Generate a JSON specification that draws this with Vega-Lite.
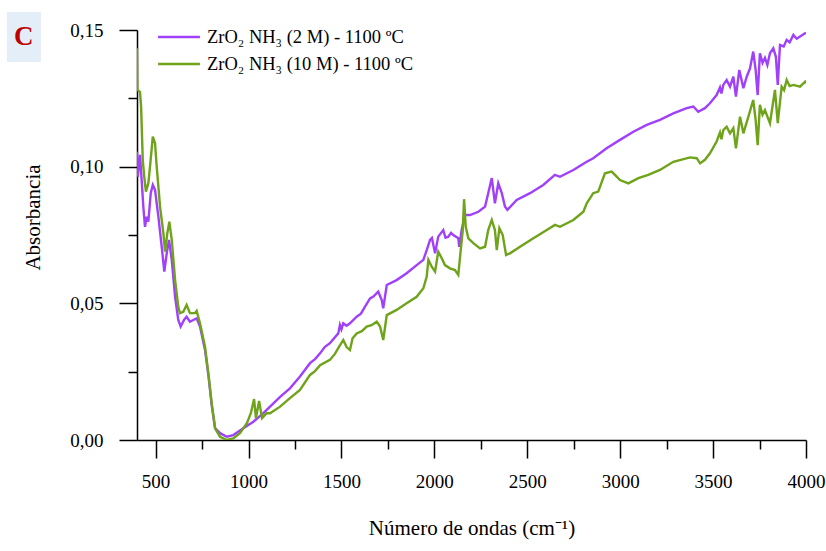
{
  "$schema": "https://vega.github.io/schema/vega-lite/v6.json",
  "width": 669,
  "height": 410,
  "autosize": {"type": "none"},
  "padding": {"left": 137, "top": 30, "right": 20, "bottom": 111},
  "background": "white",
  "view": {"stroke": null},
  "config": {
    "font": "Liberation Serif",
    "axis": {"labelFont": "Liberation Serif", "titleFont": "Liberation Serif", "labelColor": "black", "titleColor": "black", "domainColor": "black", "tickColor": "black"}
  },
  "title": {"text": "C", "anchor": "start", "frame": "group", "font": "Liberation Serif", "fontSize": 27, "fontWeight": "bold", "color": "#c00000", "dx": -123, "dy": 39, "offset": 0},
  "datasets": {
    "spec": [
      {"serie": "ZrO₂ NH₃ (2 M) - 1100 ºC", "onda": 400, "abs": 0.1055},
      {"serie": "ZrO₂ NH₃ (2 M) - 1100 ºC", "onda": 404, "abs": 0.0963},
      {"serie": "ZrO₂ NH₃ (2 M) - 1100 ºC", "onda": 416, "abs": 0.1043},
      {"serie": "ZrO₂ NH₃ (2 M) - 1100 ºC", "onda": 425, "abs": 0.0951},
      {"serie": "ZrO₂ NH₃ (2 M) - 1100 ºC", "onda": 434, "abs": 0.0854},
      {"serie": "ZrO₂ NH₃ (2 M) - 1100 ºC", "onda": 443, "abs": 0.0780},
      {"serie": "ZrO₂ NH₃ (2 M) - 1100 ºC", "onda": 452, "abs": 0.0817},
      {"serie": "ZrO₂ NH₃ (2 M) - 1100 ºC", "onda": 461, "abs": 0.0799},
      {"serie": "ZrO₂ NH₃ (2 M) - 1100 ºC", "onda": 474, "abs": 0.0903},
      {"serie": "ZrO₂ NH₃ (2 M) - 1100 ºC", "onda": 485, "abs": 0.0933},
      {"serie": "ZrO₂ NH₃ (2 M) - 1100 ºC", "onda": 497, "abs": 0.0915},
      {"serie": "ZrO₂ NH₃ (2 M) - 1100 ºC", "onda": 515, "abs": 0.0817},
      {"serie": "ZrO₂ NH₃ (2 M) - 1100 ºC", "onda": 533, "abs": 0.0707},
      {"serie": "ZrO₂ NH₃ (2 M) - 1100 ºC", "onda": 547, "abs": 0.0616},
      {"serie": "ZrO₂ NH₃ (2 M) - 1100 ºC", "onda": 560, "abs": 0.0683},
      {"serie": "ZrO₂ NH₃ (2 M) - 1100 ºC", "onda": 572, "abs": 0.0732},
      {"serie": "ZrO₂ NH₃ (2 M) - 1100 ºC", "onda": 587, "abs": 0.0659},
      {"serie": "ZrO₂ NH₃ (2 M) - 1100 ºC", "onda": 605, "abs": 0.0524},
      {"serie": "ZrO₂ NH₃ (2 M) - 1100 ºC", "onda": 622, "abs": 0.0439},
      {"serie": "ZrO₂ NH₃ (2 M) - 1100 ºC", "onda": 635, "abs": 0.0415},
      {"serie": "ZrO₂ NH₃ (2 M) - 1100 ºC", "onda": 653, "abs": 0.0439},
      {"serie": "ZrO₂ NH₃ (2 M) - 1100 ºC", "onda": 667, "abs": 0.0451},
      {"serie": "ZrO₂ NH₃ (2 M) - 1100 ºC", "onda": 685, "abs": 0.0433},
      {"serie": "ZrO₂ NH₃ (2 M) - 1100 ºC", "onda": 703, "abs": 0.0439},
      {"serie": "ZrO₂ NH₃ (2 M) - 1100 ºC", "onda": 721, "abs": 0.0445},
      {"serie": "ZrO₂ NH₃ (2 M) - 1100 ºC", "onda": 739, "abs": 0.0415},
      {"serie": "ZrO₂ NH₃ (2 M) - 1100 ºC", "onda": 766, "abs": 0.0329},
      {"serie": "ZrO₂ NH₃ (2 M) - 1100 ºC", "onda": 784, "abs": 0.0238},
      {"serie": "ZrO₂ NH₃ (2 M) - 1100 ºC", "onda": 802, "abs": 0.0128},
      {"serie": "ZrO₂ NH₃ (2 M) - 1100 ºC", "onda": 820, "abs": 0.0044},
      {"serie": "ZrO₂ NH₃ (2 M) - 1100 ºC", "onda": 847, "abs": 0.0025},
      {"serie": "ZrO₂ NH₃ (2 M) - 1100 ºC", "onda": 883, "abs": 0.0012},
      {"serie": "ZrO₂ NH₃ (2 M) - 1100 ºC", "onda": 918, "abs": 0.0018},
      {"serie": "ZrO₂ NH₃ (2 M) - 1100 ºC", "onda": 972, "abs": 0.0043},
      {"serie": "ZrO₂ NH₃ (2 M) - 1100 ºC", "onda": 1026, "abs": 0.0067},
      {"serie": "ZrO₂ NH₃ (2 M) - 1100 ºC", "onda": 1080, "abs": 0.0098},
      {"serie": "ZrO₂ NH₃ (2 M) - 1100 ºC", "onda": 1116, "abs": 0.0122},
      {"serie": "ZrO₂ NH₃ (2 M) - 1100 ºC", "onda": 1170, "abs": 0.0158},
      {"serie": "ZrO₂ NH₃ (2 M) - 1100 ºC", "onda": 1223, "abs": 0.0189},
      {"serie": "ZrO₂ NH₃ (2 M) - 1100 ºC", "onda": 1277, "abs": 0.0232},
      {"serie": "ZrO₂ NH₃ (2 M) - 1100 ºC", "onda": 1331, "abs": 0.0281},
      {"serie": "ZrO₂ NH₃ (2 M) - 1100 ºC", "onda": 1358, "abs": 0.0296},
      {"serie": "ZrO₂ NH₃ (2 M) - 1100 ºC", "onda": 1385, "abs": 0.0317},
      {"serie": "ZrO₂ NH₃ (2 M) - 1100 ºC", "onda": 1410, "abs": 0.0340},
      {"serie": "ZrO₂ NH₃ (2 M) - 1100 ºC", "onda": 1438, "abs": 0.0354},
      {"serie": "ZrO₂ NH₃ (2 M) - 1100 ºC", "onda": 1483, "abs": 0.0390},
      {"serie": "ZrO₂ NH₃ (2 M) - 1100 ºC", "onda": 1492, "abs": 0.0421},
      {"serie": "ZrO₂ NH₃ (2 M) - 1100 ºC", "onda": 1500, "abs": 0.0405},
      {"serie": "ZrO₂ NH₃ (2 M) - 1100 ºC", "onda": 1510, "abs": 0.0427},
      {"serie": "ZrO₂ NH₃ (2 M) - 1100 ºC", "onda": 1528, "abs": 0.0418},
      {"serie": "ZrO₂ NH₃ (2 M) - 1100 ºC", "onda": 1546, "abs": 0.0427},
      {"serie": "ZrO₂ NH₃ (2 M) - 1100 ºC", "onda": 1582, "abs": 0.0451},
      {"serie": "ZrO₂ NH₃ (2 M) - 1100 ºC", "onda": 1605, "abs": 0.0462},
      {"serie": "ZrO₂ NH₃ (2 M) - 1100 ºC", "onda": 1627, "abs": 0.0488},
      {"serie": "ZrO₂ NH₃ (2 M) - 1100 ºC", "onda": 1654, "abs": 0.0518},
      {"serie": "ZrO₂ NH₃ (2 M) - 1100 ºC", "onda": 1672, "abs": 0.0525},
      {"serie": "ZrO₂ NH₃ (2 M) - 1100 ºC", "onda": 1698, "abs": 0.0543},
      {"serie": "ZrO₂ NH₃ (2 M) - 1100 ºC", "onda": 1717, "abs": 0.0512},
      {"serie": "ZrO₂ NH₃ (2 M) - 1100 ºC", "onda": 1725, "abs": 0.0482},
      {"serie": "ZrO₂ NH₃ (2 M) - 1100 ºC", "onda": 1744, "abs": 0.0567},
      {"serie": "ZrO₂ NH₃ (2 M) - 1100 ºC", "onda": 1797, "abs": 0.0585},
      {"serie": "ZrO₂ NH₃ (2 M) - 1100 ºC", "onda": 1851, "abs": 0.0610},
      {"serie": "ZrO₂ NH₃ (2 M) - 1100 ºC", "onda": 1905, "abs": 0.0640},
      {"serie": "ZrO₂ NH₃ (2 M) - 1100 ºC", "onda": 1941, "abs": 0.0659},
      {"serie": "ZrO₂ NH₃ (2 M) - 1100 ºC", "onda": 1959, "abs": 0.0695},
      {"serie": "ZrO₂ NH₃ (2 M) - 1100 ºC", "onda": 1977, "abs": 0.0732},
      {"serie": "ZrO₂ NH₃ (2 M) - 1100 ºC", "onda": 1987, "abs": 0.0739},
      {"serie": "ZrO₂ NH₃ (2 M) - 1100 ºC", "onda": 2004, "abs": 0.0683},
      {"serie": "ZrO₂ NH₃ (2 M) - 1100 ºC", "onda": 2021, "abs": 0.0744},
      {"serie": "ZrO₂ NH₃ (2 M) - 1100 ºC", "onda": 2048, "abs": 0.0768},
      {"serie": "ZrO₂ NH₃ (2 M) - 1100 ºC", "onda": 2060, "abs": 0.0740},
      {"serie": "ZrO₂ NH₃ (2 M) - 1100 ºC", "onda": 2075, "abs": 0.0744},
      {"serie": "ZrO₂ NH₃ (2 M) - 1100 ºC", "onda": 2090, "abs": 0.0758},
      {"serie": "ZrO₂ NH₃ (2 M) - 1100 ºC", "onda": 2102, "abs": 0.0750},
      {"serie": "ZrO₂ NH₃ (2 M) - 1100 ºC", "onda": 2129, "abs": 0.0738},
      {"serie": "ZrO₂ NH₃ (2 M) - 1100 ºC", "onda": 2134, "abs": 0.0707},
      {"serie": "ZrO₂ NH₃ (2 M) - 1100 ºC", "onda": 2147, "abs": 0.0768},
      {"serie": "ZrO₂ NH₃ (2 M) - 1100 ºC", "onda": 2165, "abs": 0.0823},
      {"serie": "ZrO₂ NH₃ (2 M) - 1100 ºC", "onda": 2192, "abs": 0.0823},
      {"serie": "ZrO₂ NH₃ (2 M) - 1100 ºC", "onda": 2237, "abs": 0.0835},
      {"serie": "ZrO₂ NH₃ (2 M) - 1100 ºC", "onda": 2273, "abs": 0.0854},
      {"serie": "ZrO₂ NH₃ (2 M) - 1100 ºC", "onda": 2290, "abs": 0.0903},
      {"serie": "ZrO₂ NH₃ (2 M) - 1100 ºC", "onda": 2309, "abs": 0.0958},
      {"serie": "ZrO₂ NH₃ (2 M) - 1100 ºC", "onda": 2326, "abs": 0.0866},
      {"serie": "ZrO₂ NH₃ (2 M) - 1100 ºC", "onda": 2344, "abs": 0.0939},
      {"serie": "ZrO₂ NH₃ (2 M) - 1100 ºC", "onda": 2363, "abs": 0.0903},
      {"serie": "ZrO₂ NH₃ (2 M) - 1100 ºC", "onda": 2380, "abs": 0.0854},
      {"serie": "ZrO₂ NH₃ (2 M) - 1100 ºC", "onda": 2393, "abs": 0.0842},
      {"serie": "ZrO₂ NH₃ (2 M) - 1100 ºC", "onda": 2443, "abs": 0.0878},
      {"serie": "ZrO₂ NH₃ (2 M) - 1100 ºC", "onda": 2515, "abs": 0.0903},
      {"serie": "ZrO₂ NH₃ (2 M) - 1100 ºC", "onda": 2586, "abs": 0.0933},
      {"serie": "ZrO₂ NH₃ (2 M) - 1100 ºC", "onda": 2649, "abs": 0.0970},
      {"serie": "ZrO₂ NH₃ (2 M) - 1100 ºC", "onda": 2676, "abs": 0.0963},
      {"serie": "ZrO₂ NH₃ (2 M) - 1100 ºC", "onda": 2748, "abs": 0.0988},
      {"serie": "ZrO₂ NH₃ (2 M) - 1100 ºC", "onda": 2820, "abs": 0.1018},
      {"serie": "ZrO₂ NH₃ (2 M) - 1100 ºC", "onda": 2855, "abs": 0.1031},
      {"serie": "ZrO₂ NH₃ (2 M) - 1100 ºC", "onda": 2927, "abs": 0.1067},
      {"serie": "ZrO₂ NH₃ (2 M) - 1100 ºC", "onda": 2999, "abs": 0.1098},
      {"serie": "ZrO₂ NH₃ (2 M) - 1100 ºC", "onda": 3071, "abs": 0.1128},
      {"serie": "ZrO₂ NH₃ (2 M) - 1100 ºC", "onda": 3143, "abs": 0.1153},
      {"serie": "ZrO₂ NH₃ (2 M) - 1100 ºC", "onda": 3214, "abs": 0.1171},
      {"serie": "ZrO₂ NH₃ (2 M) - 1100 ºC", "onda": 3286, "abs": 0.1195},
      {"serie": "ZrO₂ NH₃ (2 M) - 1100 ºC", "onda": 3358, "abs": 0.1214},
      {"serie": "ZrO₂ NH₃ (2 M) - 1100 ºC", "onda": 3394, "abs": 0.1220},
      {"serie": "ZrO₂ NH₃ (2 M) - 1100 ºC", "onda": 3420, "abs": 0.1201},
      {"serie": "ZrO₂ NH₃ (2 M) - 1100 ºC", "onda": 3456, "abs": 0.1214},
      {"serie": "ZrO₂ NH₃ (2 M) - 1100 ºC", "onda": 3483, "abs": 0.1232},
      {"serie": "ZrO₂ NH₃ (2 M) - 1100 ºC", "onda": 3519, "abs": 0.1262},
      {"serie": "ZrO₂ NH₃ (2 M) - 1100 ºC", "onda": 3537, "abs": 0.1290},
      {"serie": "ZrO₂ NH₃ (2 M) - 1100 ºC", "onda": 3545, "abs": 0.1268},
      {"serie": "ZrO₂ NH₃ (2 M) - 1100 ºC", "onda": 3555, "abs": 0.1299},
      {"serie": "ZrO₂ NH₃ (2 M) - 1100 ºC", "onda": 3573, "abs": 0.1317},
      {"serie": "ZrO₂ NH₃ (2 M) - 1100 ºC", "onda": 3591, "abs": 0.1293},
      {"serie": "ZrO₂ NH₃ (2 M) - 1100 ºC", "onda": 3609, "abs": 0.1329},
      {"serie": "ZrO₂ NH₃ (2 M) - 1100 ºC", "onda": 3623, "abs": 0.1256},
      {"serie": "ZrO₂ NH₃ (2 M) - 1100 ºC", "onda": 3641, "abs": 0.1354},
      {"serie": "ZrO₂ NH₃ (2 M) - 1100 ºC", "onda": 3663, "abs": 0.1287},
      {"serie": "ZrO₂ NH₃ (2 M) - 1100 ºC", "onda": 3681, "abs": 0.1329},
      {"serie": "ZrO₂ NH₃ (2 M) - 1100 ºC", "onda": 3699, "abs": 0.1360},
      {"serie": "ZrO₂ NH₃ (2 M) - 1100 ºC", "onda": 3716, "abs": 0.1421},
      {"serie": "ZrO₂ NH₃ (2 M) - 1100 ºC", "onda": 3729, "abs": 0.1354},
      {"serie": "ZrO₂ NH₃ (2 M) - 1100 ºC", "onda": 3740, "abs": 0.1262},
      {"serie": "ZrO₂ NH₃ (2 M) - 1100 ºC", "onda": 3752, "abs": 0.1415},
      {"serie": "ZrO₂ NH₃ (2 M) - 1100 ºC", "onda": 3766, "abs": 0.1380},
      {"serie": "ZrO₂ NH₃ (2 M) - 1100 ºC", "onda": 3779, "abs": 0.1398},
      {"serie": "ZrO₂ NH₃ (2 M) - 1100 ºC", "onda": 3792, "abs": 0.1372},
      {"serie": "ZrO₂ NH₃ (2 M) - 1100 ºC", "onda": 3806, "abs": 0.1415},
      {"serie": "ZrO₂ NH₃ (2 M) - 1100 ºC", "onda": 3824, "abs": 0.1433},
      {"serie": "ZrO₂ NH₃ (2 M) - 1100 ºC", "onda": 3838, "abs": 0.1402},
      {"serie": "ZrO₂ NH₃ (2 M) - 1100 ºC", "onda": 3848, "abs": 0.1299},
      {"serie": "ZrO₂ NH₃ (2 M) - 1100 ºC", "onda": 3860, "abs": 0.1445},
      {"serie": "ZrO₂ NH₃ (2 M) - 1100 ºC", "onda": 3880, "abs": 0.1440},
      {"serie": "ZrO₂ NH₃ (2 M) - 1100 ºC", "onda": 3896, "abs": 0.1464},
      {"serie": "ZrO₂ NH₃ (2 M) - 1100 ºC", "onda": 3912, "abs": 0.1455},
      {"serie": "ZrO₂ NH₃ (2 M) - 1100 ºC", "onda": 3932, "abs": 0.1482},
      {"serie": "ZrO₂ NH₃ (2 M) - 1100 ºC", "onda": 3950, "abs": 0.1468},
      {"serie": "ZrO₂ NH₃ (2 M) - 1100 ºC", "onda": 3968, "abs": 0.1476},
      {"serie": "ZrO₂ NH₃ (2 M) - 1100 ºC", "onda": 3995, "abs": 0.1488},
      {"serie": "ZrO₂ NH₃ (2 M) - 1100 ºC", "onda": 4000, "abs": 0.1490},

      {"serie": "ZrO₂ NH₃ (10 M) - 1100 ºC", "onda": 400, "abs": 0.1433},
      {"serie": "ZrO₂ NH₃ (10 M) - 1100 ºC", "onda": 402, "abs": 0.1281},
      {"serie": "ZrO₂ NH₃ (10 M) - 1100 ºC", "onda": 416, "abs": 0.1274},
      {"serie": "ZrO₂ NH₃ (10 M) - 1100 ºC", "onda": 422, "abs": 0.1220},
      {"serie": "ZrO₂ NH₃ (10 M) - 1100 ºC", "onda": 431, "abs": 0.1025},
      {"serie": "ZrO₂ NH₃ (10 M) - 1100 ºC", "onda": 439, "abs": 0.0963},
      {"serie": "ZrO₂ NH₃ (10 M) - 1100 ºC", "onda": 448, "abs": 0.0909},
      {"serie": "ZrO₂ NH₃ (10 M) - 1100 ºC", "onda": 461, "abs": 0.0939},
      {"serie": "ZrO₂ NH₃ (10 M) - 1100 ºC", "onda": 470, "abs": 0.1000},
      {"serie": "ZrO₂ NH₃ (10 M) - 1100 ºC", "onda": 485, "abs": 0.1110},
      {"serie": "ZrO₂ NH₃ (10 M) - 1100 ºC", "onda": 497, "abs": 0.1086},
      {"serie": "ZrO₂ NH₃ (10 M) - 1100 ºC", "onda": 506, "abs": 0.1000},
      {"serie": "ZrO₂ NH₃ (10 M) - 1100 ºC", "onda": 524, "abs": 0.0854},
      {"serie": "ZrO₂ NH₃ (10 M) - 1100 ºC", "onda": 542, "abs": 0.0756},
      {"serie": "ZrO₂ NH₃ (10 M) - 1100 ºC", "onda": 551, "abs": 0.0689},
      {"serie": "ZrO₂ NH₃ (10 M) - 1100 ºC", "onda": 563, "abs": 0.0756},
      {"serie": "ZrO₂ NH₃ (10 M) - 1100 ºC", "onda": 574, "abs": 0.0799},
      {"serie": "ZrO₂ NH₃ (10 M) - 1100 ºC", "onda": 587, "abs": 0.0732},
      {"serie": "ZrO₂ NH₃ (10 M) - 1100 ºC", "onda": 605, "abs": 0.0585},
      {"serie": "ZrO₂ NH₃ (10 M) - 1100 ºC", "onda": 622, "abs": 0.0488},
      {"serie": "ZrO₂ NH₃ (10 M) - 1100 ºC", "onda": 631, "abs": 0.0464},
      {"serie": "ZrO₂ NH₃ (10 M) - 1100 ºC", "onda": 649, "abs": 0.0469},
      {"serie": "ZrO₂ NH₃ (10 M) - 1100 ºC", "onda": 667, "abs": 0.0494},
      {"serie": "ZrO₂ NH₃ (10 M) - 1100 ºC", "onda": 685, "abs": 0.0464},
      {"serie": "ZrO₂ NH₃ (10 M) - 1100 ºC", "onda": 712, "abs": 0.0464},
      {"serie": "ZrO₂ NH₃ (10 M) - 1100 ºC", "onda": 721, "abs": 0.0472},
      {"serie": "ZrO₂ NH₃ (10 M) - 1100 ºC", "onda": 739, "abs": 0.0427},
      {"serie": "ZrO₂ NH₃ (10 M) - 1100 ºC", "onda": 766, "abs": 0.0341},
      {"serie": "ZrO₂ NH₃ (10 M) - 1100 ºC", "onda": 784, "abs": 0.0244},
      {"serie": "ZrO₂ NH₃ (10 M) - 1100 ºC", "onda": 802, "abs": 0.0134},
      {"serie": "ZrO₂ NH₃ (10 M) - 1100 ºC", "onda": 820, "abs": 0.0043},
      {"serie": "ZrO₂ NH₃ (10 M) - 1100 ºC", "onda": 847, "abs": 0.0012},
      {"serie": "ZrO₂ NH₃ (10 M) - 1100 ºC", "onda": 883, "abs": 0.0000},
      {"serie": "ZrO₂ NH₃ (10 M) - 1100 ºC", "onda": 918, "abs": 0.0006},
      {"serie": "ZrO₂ NH₃ (10 M) - 1100 ºC", "onda": 954, "abs": 0.0025},
      {"serie": "ZrO₂ NH₃ (10 M) - 1100 ºC", "onda": 992, "abs": 0.0062},
      {"serie": "ZrO₂ NH₃ (10 M) - 1100 ºC", "onda": 1013, "abs": 0.0099},
      {"serie": "ZrO₂ NH₃ (10 M) - 1100 ºC", "onda": 1030, "abs": 0.0150},
      {"serie": "ZrO₂ NH₃ (10 M) - 1100 ºC", "onda": 1040, "abs": 0.0080},
      {"serie": "ZrO₂ NH₃ (10 M) - 1100 ºC", "onda": 1057, "abs": 0.0143},
      {"serie": "ZrO₂ NH₃ (10 M) - 1100 ºC", "onda": 1073, "abs": 0.0080},
      {"serie": "ZrO₂ NH₃ (10 M) - 1100 ºC", "onda": 1098, "abs": 0.0098},
      {"serie": "ZrO₂ NH₃ (10 M) - 1100 ºC", "onda": 1116, "abs": 0.0098},
      {"serie": "ZrO₂ NH₃ (10 M) - 1100 ºC", "onda": 1170, "abs": 0.0122},
      {"serie": "ZrO₂ NH₃ (10 M) - 1100 ºC", "onda": 1223, "abs": 0.0153},
      {"serie": "ZrO₂ NH₃ (10 M) - 1100 ºC", "onda": 1277, "abs": 0.0183},
      {"serie": "ZrO₂ NH₃ (10 M) - 1100 ºC", "onda": 1331, "abs": 0.0238},
      {"serie": "ZrO₂ NH₃ (10 M) - 1100 ºC", "onda": 1358, "abs": 0.0252},
      {"serie": "ZrO₂ NH₃ (10 M) - 1100 ºC", "onda": 1385, "abs": 0.0274},
      {"serie": "ZrO₂ NH₃ (10 M) - 1100 ºC", "onda": 1438, "abs": 0.0293},
      {"serie": "ZrO₂ NH₃ (10 M) - 1100 ºC", "onda": 1465, "abs": 0.0315},
      {"serie": "ZrO₂ NH₃ (10 M) - 1100 ºC", "onda": 1483, "abs": 0.0336},
      {"serie": "ZrO₂ NH₃ (10 M) - 1100 ºC", "onda": 1510, "abs": 0.0366},
      {"serie": "ZrO₂ NH₃ (10 M) - 1100 ºC", "onda": 1528, "abs": 0.0340},
      {"serie": "ZrO₂ NH₃ (10 M) - 1100 ºC", "onda": 1546, "abs": 0.0329},
      {"serie": "ZrO₂ NH₃ (10 M) - 1100 ºC", "onda": 1560, "abs": 0.0372},
      {"serie": "ZrO₂ NH₃ (10 M) - 1100 ºC", "onda": 1582, "abs": 0.0390},
      {"serie": "ZrO₂ NH₃ (10 M) - 1100 ºC", "onda": 1610, "abs": 0.0398},
      {"serie": "ZrO₂ NH₃ (10 M) - 1100 ºC", "onda": 1636, "abs": 0.0415},
      {"serie": "ZrO₂ NH₃ (10 M) - 1100 ºC", "onda": 1662, "abs": 0.0420},
      {"serie": "ZrO₂ NH₃ (10 M) - 1100 ºC", "onda": 1690, "abs": 0.0433},
      {"serie": "ZrO₂ NH₃ (10 M) - 1100 ºC", "onda": 1708, "abs": 0.0415},
      {"serie": "ZrO₂ NH₃ (10 M) - 1100 ºC", "onda": 1725, "abs": 0.0366},
      {"serie": "ZrO₂ NH₃ (10 M) - 1100 ºC", "onda": 1744, "abs": 0.0457},
      {"serie": "ZrO₂ NH₃ (10 M) - 1100 ºC", "onda": 1797, "abs": 0.0476},
      {"serie": "ZrO₂ NH₃ (10 M) - 1100 ºC", "onda": 1851, "abs": 0.0500},
      {"serie": "ZrO₂ NH₃ (10 M) - 1100 ºC", "onda": 1905, "abs": 0.0524},
      {"serie": "ZrO₂ NH₃ (10 M) - 1100 ºC", "onda": 1941, "abs": 0.0555},
      {"serie": "ZrO₂ NH₃ (10 M) - 1100 ºC", "onda": 1959, "abs": 0.0598},
      {"serie": "ZrO₂ NH₃ (10 M) - 1100 ºC", "onda": 1968, "abs": 0.0659},
      {"serie": "ZrO₂ NH₃ (10 M) - 1100 ºC", "onda": 1986, "abs": 0.0634},
      {"serie": "ZrO₂ NH₃ (10 M) - 1100 ºC", "onda": 2004, "abs": 0.0616},
      {"serie": "ZrO₂ NH₃ (10 M) - 1100 ºC", "onda": 2021, "abs": 0.0689},
      {"serie": "ZrO₂ NH₃ (10 M) - 1100 ºC", "onda": 2040, "abs": 0.0665},
      {"serie": "ZrO₂ NH₃ (10 M) - 1100 ºC", "onda": 2057, "abs": 0.0640},
      {"serie": "ZrO₂ NH₃ (10 M) - 1100 ºC", "onda": 2084, "abs": 0.0628},
      {"serie": "ZrO₂ NH₃ (10 M) - 1100 ºC", "onda": 2111, "abs": 0.0622},
      {"serie": "ZrO₂ NH₃ (10 M) - 1100 ºC", "onda": 2129, "abs": 0.0604},
      {"serie": "ZrO₂ NH₃ (10 M) - 1100 ºC", "onda": 2142, "abs": 0.0695},
      {"serie": "ZrO₂ NH₃ (10 M) - 1100 ºC", "onda": 2153, "abs": 0.0768},
      {"serie": "ZrO₂ NH₃ (10 M) - 1100 ºC", "onda": 2160, "abs": 0.0881},
      {"serie": "ZrO₂ NH₃ (10 M) - 1100 ºC", "onda": 2169, "abs": 0.0780},
      {"serie": "ZrO₂ NH₃ (10 M) - 1100 ºC", "onda": 2183, "abs": 0.0738},
      {"serie": "ZrO₂ NH₃ (10 M) - 1100 ºC", "onda": 2210, "abs": 0.0720},
      {"serie": "ZrO₂ NH₃ (10 M) - 1100 ºC", "onda": 2246, "abs": 0.0701},
      {"serie": "ZrO₂ NH₃ (10 M) - 1100 ºC", "onda": 2273, "abs": 0.0707},
      {"serie": "ZrO₂ NH₃ (10 M) - 1100 ºC", "onda": 2290, "abs": 0.0768},
      {"serie": "ZrO₂ NH₃ (10 M) - 1100 ºC", "onda": 2309, "abs": 0.0805},
      {"serie": "ZrO₂ NH₃ (10 M) - 1100 ºC", "onda": 2326, "abs": 0.0768},
      {"serie": "ZrO₂ NH₃ (10 M) - 1100 ºC", "onda": 2336, "abs": 0.0695},
      {"serie": "ZrO₂ NH₃ (10 M) - 1100 ºC", "onda": 2350, "abs": 0.0775},
      {"serie": "ZrO₂ NH₃ (10 M) - 1100 ºC", "onda": 2368, "abs": 0.0750},
      {"serie": "ZrO₂ NH₃ (10 M) - 1100 ºC", "onda": 2386, "abs": 0.0677},
      {"serie": "ZrO₂ NH₃ (10 M) - 1100 ºC", "onda": 2407, "abs": 0.0683},
      {"serie": "ZrO₂ NH₃ (10 M) - 1100 ºC", "onda": 2461, "abs": 0.0707},
      {"serie": "ZrO₂ NH₃ (10 M) - 1100 ºC", "onda": 2533, "abs": 0.0738},
      {"serie": "ZrO₂ NH₃ (10 M) - 1100 ºC", "onda": 2605, "abs": 0.0768},
      {"serie": "ZrO₂ NH₃ (10 M) - 1100 ºC", "onda": 2649, "abs": 0.0787},
      {"serie": "ZrO₂ NH₃ (10 M) - 1100 ºC", "onda": 2676, "abs": 0.0780},
      {"serie": "ZrO₂ NH₃ (10 M) - 1100 ºC", "onda": 2748, "abs": 0.0805},
      {"serie": "ZrO₂ NH₃ (10 M) - 1100 ºC", "onda": 2802, "abs": 0.0835},
      {"serie": "ZrO₂ NH₃ (10 M) - 1100 ºC", "onda": 2820, "abs": 0.0866},
      {"serie": "ZrO₂ NH₃ (10 M) - 1100 ºC", "onda": 2855, "abs": 0.0903},
      {"serie": "ZrO₂ NH₃ (10 M) - 1100 ºC", "onda": 2882, "abs": 0.0909},
      {"serie": "ZrO₂ NH₃ (10 M) - 1100 ºC", "onda": 2918, "abs": 0.0976},
      {"serie": "ZrO₂ NH₃ (10 M) - 1100 ºC", "onda": 2954, "abs": 0.0982},
      {"serie": "ZrO₂ NH₃ (10 M) - 1100 ºC", "onda": 2972, "abs": 0.0970},
      {"serie": "ZrO₂ NH₃ (10 M) - 1100 ºC", "onda": 2999, "abs": 0.0951},
      {"serie": "ZrO₂ NH₃ (10 M) - 1100 ºC", "onda": 3044, "abs": 0.0939},
      {"serie": "ZrO₂ NH₃ (10 M) - 1100 ºC", "onda": 3098, "abs": 0.0958},
      {"serie": "ZrO₂ NH₃ (10 M) - 1100 ºC", "onda": 3151, "abs": 0.0970},
      {"serie": "ZrO₂ NH₃ (10 M) - 1100 ºC", "onda": 3214, "abs": 0.0988},
      {"serie": "ZrO₂ NH₃ (10 M) - 1100 ºC", "onda": 3286, "abs": 0.1018},
      {"serie": "ZrO₂ NH₃ (10 M) - 1100 ºC", "onda": 3376, "abs": 0.1034},
      {"serie": "ZrO₂ NH₃ (10 M) - 1100 ºC", "onda": 3412, "abs": 0.1031},
      {"serie": "ZrO₂ NH₃ (10 M) - 1100 ºC", "onda": 3430, "abs": 0.1012},
      {"serie": "ZrO₂ NH₃ (10 M) - 1100 ºC", "onda": 3456, "abs": 0.1025},
      {"serie": "ZrO₂ NH₃ (10 M) - 1100 ºC", "onda": 3483, "abs": 0.1049},
      {"serie": "ZrO₂ NH₃ (10 M) - 1100 ºC", "onda": 3519, "abs": 0.1092},
      {"serie": "ZrO₂ NH₃ (10 M) - 1100 ºC", "onda": 3537, "abs": 0.1125},
      {"serie": "ZrO₂ NH₃ (10 M) - 1100 ºC", "onda": 3545, "abs": 0.1100},
      {"serie": "ZrO₂ NH₃ (10 M) - 1100 ºC", "onda": 3555, "abs": 0.1134},
      {"serie": "ZrO₂ NH₃ (10 M) - 1100 ºC", "onda": 3573, "abs": 0.1146},
      {"serie": "ZrO₂ NH₃ (10 M) - 1100 ºC", "onda": 3591, "abs": 0.1122},
      {"serie": "ZrO₂ NH₃ (10 M) - 1100 ºC", "onda": 3609, "abs": 0.1141},
      {"serie": "ZrO₂ NH₃ (10 M) - 1100 ºC", "onda": 3623, "abs": 0.1067},
      {"serie": "ZrO₂ NH₃ (10 M) - 1100 ºC", "onda": 3645, "abs": 0.1183},
      {"serie": "ZrO₂ NH₃ (10 M) - 1100 ºC", "onda": 3663, "abs": 0.1122},
      {"serie": "ZrO₂ NH₃ (10 M) - 1100 ºC", "onda": 3690, "abs": 0.1183},
      {"serie": "ZrO₂ NH₃ (10 M) - 1100 ºC", "onda": 3716, "abs": 0.1244},
      {"serie": "ZrO₂ NH₃ (10 M) - 1100 ºC", "onda": 3729, "abs": 0.1171},
      {"serie": "ZrO₂ NH₃ (10 M) - 1100 ºC", "onda": 3740, "abs": 0.1079},
      {"serie": "ZrO₂ NH₃ (10 M) - 1100 ºC", "onda": 3752, "abs": 0.1226},
      {"serie": "ZrO₂ NH₃ (10 M) - 1100 ºC", "onda": 3766, "abs": 0.1190},
      {"serie": "ZrO₂ NH₃ (10 M) - 1100 ºC", "onda": 3779, "abs": 0.1207},
      {"serie": "ZrO₂ NH₃ (10 M) - 1100 ºC", "onda": 3806, "abs": 0.1159},
      {"serie": "ZrO₂ NH₃ (10 M) - 1100 ºC", "onda": 3833, "abs": 0.1281},
      {"serie": "ZrO₂ NH₃ (10 M) - 1100 ºC", "onda": 3848, "abs": 0.1159},
      {"serie": "ZrO₂ NH₃ (10 M) - 1100 ºC", "onda": 3869, "abs": 0.1293},
      {"serie": "ZrO₂ NH₃ (10 M) - 1100 ºC", "onda": 3882, "abs": 0.1280},
      {"serie": "ZrO₂ NH₃ (10 M) - 1100 ºC", "onda": 3896, "abs": 0.1317},
      {"serie": "ZrO₂ NH₃ (10 M) - 1100 ºC", "onda": 3912, "abs": 0.1295},
      {"serie": "ZrO₂ NH₃ (10 M) - 1100 ºC", "onda": 3932, "abs": 0.1299},
      {"serie": "ZrO₂ NH₃ (10 M) - 1100 ºC", "onda": 3968, "abs": 0.1293},
      {"serie": "ZrO₂ NH₃ (10 M) - 1100 ºC", "onda": 3995, "abs": 0.1311},
      {"serie": "ZrO₂ NH₃ (10 M) - 1100 ºC", "onda": 4000, "abs": 0.1305}
    ]
  },
  "layer": [
    {
      "data": {"values": [{}]},
      "mark": {"type": "rect", "color": "#e4eef8", "clip": false},
      "encoding": {
        "x": {"datum": -300, "type": "quantitative", "scale": {"domain": [400, 4000]}},
        "x2": {"datum": -117},
        "y": {"datum": 0.1566, "type": "quantitative"},
        "y2": {"datum": 0.1383}
      }
    },
    {
      "data": {"name": "spec"},
      "mark": {"type": "line", "strokeWidth": 2.4, "clip": true},
      "encoding": {
        "x": {
          "field": "onda", "type": "quantitative",
          "scale": {"domain": [400, 4000], "nice": false, "zero": false},
          "axis": {
            "title": "Número de ondas (cm⁻¹)",
            "titleFontSize": 21, "titleFontWeight": "normal", "titlePadding": 26,
            "values": [500, 750, 1000, 1250, 1500, 1750, 2000, 2250, 2500, 2750, 3000, 3250, 3500, 3750, 4000],
            "labelExpr": "datum.value % 500 == 0 ? format(datum.value, 'd') : ''",
            "labelFontSize": 19, "labelPadding": 14, "labelFlush": false, "labelOverlap": false,
            "tickSize": {"condition": {"test": "datum.value % 500 == 0", "value": 18}, "value": 9},
            "tickWidth": 1.5, "domainWidth": 1.5, "grid": false
          }
        },
        "y": {
          "field": "abs", "type": "quantitative",
          "scale": {"domain": [0, 0.15], "nice": false},
          "axis": {
            "title": "Absorbancia",
            "titleFontSize": 21, "titleFontWeight": "normal", "titlePadding": 26, "titleY": 187,
            "values": [0, 0.025, 0.05, 0.075, 0.1, 0.125, 0.15],
            "labelExpr": "abs(datum.value * 20 - round(datum.value * 20)) < 0.01 ? replace(format(datum.value, '.2f'), '.', ',') : ''",
            "labelFontSize": 19, "labelPadding": 16, "labelFlush": false, "labelOverlap": false,
            "tickSize": {"condition": {"test": "abs(datum.value * 20 - round(datum.value * 20)) < 0.01", "value": 18}, "value": 9},
            "tickWidth": 1.5, "domainWidth": 1.5, "grid": false
          }
        },
        "color": {
          "field": "serie", "type": "nominal",
          "scale": {"domain": ["ZrO₂ NH₃ (2 M) - 1100 ºC", "ZrO₂ NH₃ (10 M) - 1100 ºC"], "range": ["#a040fa", "#6ea31a"]},
          "legend": {
            "title": null, "orient": "none", "legendX": 27, "legendY": -8,
            "symbolType": "M-1.55,0H1.55", "symbolStrokeWidth": 2.5, "symbolSize": 729,
            "labelFont": "Liberation Serif", "labelFontSize": 18.5, "labelColor": "black",
            "labelOffset": 13, "rowPadding": 2, "labelLimit": 400
          }
        }
      }
    }
  ]
}
